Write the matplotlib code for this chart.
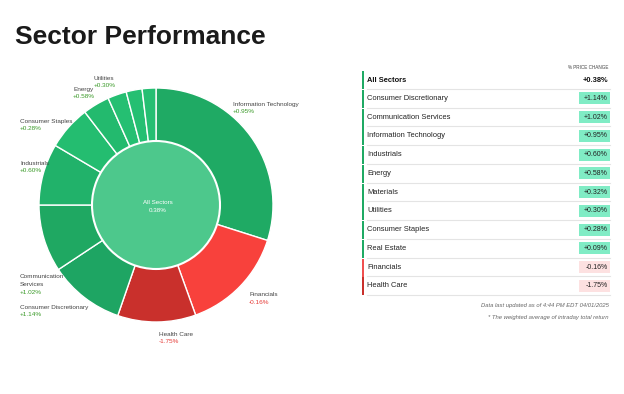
import matplotlib.pyplot as plt
from matplotlib.patches import Rectangle

plt.rcParams['font.family'] = ['Liberation Sans', 'DejaVu Sans']

# donut data, clockwise from 12 o'clock (index weight %)
pie_sectors = ["Information Technology", "Financials", "Health Care", "Consumer Discretionary",
               "Communication Services", "Industrials", "Consumer Staples", "Energy",
               "Utilities", "Real Estate", "Materials"]
pie_weights = [29.9, 14.6, 10.8, 10.4, 9.3, 8.5, 6.1, 3.7, 2.6, 2.2, 1.9]
pie_colors = ["#1faa64", "#f8413c", "#c9302c", "#1ea563", "#1fa862", "#21b26a",
              "#24bd70", "#23ba6e", "#25bf72", "#25bf72", "#25bf72"]

# table data
table_sectors = ["Consumer Discretionary", "Communication Services", "Information Technology",
                 "Industrials", "Energy", "Materials", "Utilities", "Consumer Staples",
                 "Real Estate", "Financials", "Health Care"]
table_changes = [1.14, 1.02, 0.95, 0.60, 0.58, 0.32, 0.30, 0.28, 0.09, -0.16, -1.75]
all_sectors = 0.38

W, H = 624, 394
fig = plt.figure(figsize=(W / 100, H / 100), dpi=100)
ax = fig.add_axes([0, 0, 1, 1])

def Y(y):
    return H - y

cx, cy, r_out, r_in = 156, 205, 117, 64
ax.pie(pie_weights, colors=pie_colors, startangle=90, counterclock=False,
       radius=r_out, center=(cx, Y(cy)),
       wedgeprops=dict(edgecolor="white", linewidth=1))
ax.pie([1], colors=["#4dc88c"], radius=r_in, center=(cx, Y(cy)),
       wedgeprops=dict(edgecolor="white", linewidth=1.5))
ax.text(cx + 2, Y(202), "All Sectors", color="white", fontsize=4.5, ha="center", va="center")
ax.text(cx + 2, Y(210), f"{all_sectors:.2f}%", color="white", fontsize=4.5,
        ha="center", va="center")

chg = dict(zip(table_sectors, table_changes))
# label positions (first line) around the donut
label_pos = {
    "Utilities": (94, 78), "Energy": (73, 89), "Consumer Staples": (20, 121),
    "Industrials": (20, 163), "Communication\nServices": (20, 277),
    "Consumer Discretionary": (20, 307), "Information Technology": (233, 104),
    "Financials": (249, 295), "Health Care": (159, 334),
}
step = 7.5
for name, (lx, ly) in label_pos.items():
    lines = name.split("\n")
    v = chg[" ".join(lines)]
    for k, line in enumerate(lines):
        ax.text(lx, Y(ly + k * step), line, fontsize=4.6, color="#444444",
                ha="left", va="center")
    ax.text(lx, Y(ly + len(lines) * step), f"{v:+.2f}%", fontsize=4.6,
            color="#3a9a28" if v > 0 else "#e53935", ha="left", va="center")

# title
ax.text(15, Y(37), "Sector Performance", fontsize=19, fontweight="bold",
        color="#1a1a1a", ha="left", va="center")

# table
tx0, tx1 = 367, 610
ax.text(609, Y(67), "% PRICE CHANGE", fontsize=3.3, color="#444444", ha="right", va="center")
ax.text(tx0, Y(80), "All Sectors", fontsize=5.4, fontweight="bold", color="#111111",
        ha="left", va="center")
ax.text(608, Y(80), f"{all_sectors:+.2f}%", fontsize=5.4, fontweight="bold",
        color="#111111", ha="right", va="center")
ax.add_patch(Rectangle((362, Y(88.5)), 1.6, 18, color="#1faa64", lw=0))
ax.plot([tx0, tx1], [Y(88.5), Y(88.5)], color="#e4e4e4", lw=0.8)

row_h = 18.75
for i, (name, v) in enumerate(zip(table_sectors, table_changes)):
    yc = 98.3 + i * row_h
    top = yc - row_h / 2 + 0.3
    bar_col = "#1faa64" if v > 0 else ("#c9302c" if v < -1 else "#f05050")
    ax.add_patch(Rectangle((362, Y(top + row_h)), 1.6, row_h - 0.6, color=bar_col, lw=0))
    ax.text(tx0, Y(yc), name, fontsize=5.4, color="#222222", ha="left", va="center")
    box_col = "#80ecc5" if v > 0 else "#fde1e1"
    ax.add_patch(Rectangle((579, Y(yc + 6)), 31, 12, color=box_col, lw=0))
    ax.text(608, Y(yc), f"{v:+.2f}%", fontsize=5.0, color="#222222", ha="right", va="center")
    ax.plot([tx0, tx1], [Y(yc + row_h / 2), Y(yc + row_h / 2)], color="#e4e4e4", lw=0.8)

ax.text(609, Y(305), "Data last updated as of 4:44 PM EDT 04/01/2025", fontsize=4.2,
        style="italic", color="#666666", ha="right", va="center")
ax.text(609, Y(317), "* The weighted average of intraday total return", fontsize=4.2,
        style="italic", color="#666666", ha="right", va="center")

ax.set_xlim(0, W)
ax.set_ylim(0, H)
ax.set_aspect("equal")
ax.axis("off")
fig.savefig("out.png", dpi=100)
